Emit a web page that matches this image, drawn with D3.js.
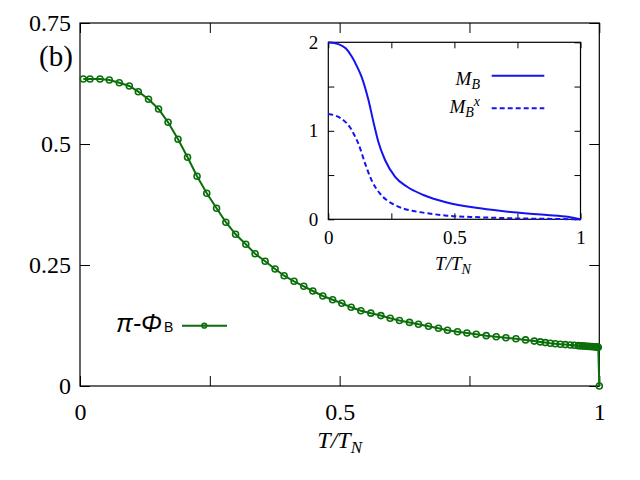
<!DOCTYPE html>
<html>
<head>
<meta charset="utf-8">
<script src="https://cdn.jsdelivr.net/npm/d3@7"></script>
<style>
  html, body { margin: 0; padding: 0; background: #fff; }
  svg { display: block; }
</style>
</head>
<body>
<svg id="chart" width="640" height="480"></svg>
<script>
// ---------- data ----------
const mainT = [0.0064, 0.0193, 0.0385, 0.0565, 0.0757, 0.0950, 0.1123, 0.1320, 0.1513, 0.1696,
  0.1888, 0.2071, 0.2254, 0.2441, 0.2630, 0.2809, 0.2996, 0.3193, 0.3372, 0.3565,
  0.3757, 0.3931, 0.4123, 0.4310, 0.4484, 0.4676, 0.4865, 0.5042, 0.5222, 0.5408,
  0.5601, 0.5794, 0.5973, 0.6152, 0.6345, 0.6518, 0.6711, 0.6904, 0.7077, 0.7270,
  0.7451, 0.7630, 0.7823, 0.8015, 0.8202, 0.8395, 0.8580, 0.8748, 0.8863, 0.8960,
  0.9056, 0.9152, 0.9249, 0.9345, 0.9441, 0.9518, 0.9595, 0.9634, 0.9672, 0.9711,
  0.9750, 0.9788, 0.9827, 0.9865, 0.9904, 0.9933, 0.9961, 0.9980, 1.0000];
const mainPhi = [0.6343, 0.6343, 0.6343, 0.6322, 0.6267, 0.6198, 0.6081, 0.5924, 0.5723, 0.5448,
  0.5097, 0.4727, 0.4335, 0.3981, 0.3671, 0.3384, 0.3134, 0.2928, 0.2733, 0.2576,
  0.2417, 0.2279, 0.2163, 0.2060, 0.1963, 0.1860, 0.1781, 0.1709, 0.1626, 0.1556,
  0.1505, 0.1455, 0.1399, 0.1352, 0.1314, 0.1275, 0.1233, 0.1192, 0.1151, 0.1122,
  0.1095, 0.1070, 0.1040, 0.1019, 0.0998, 0.0977, 0.0952, 0.0928, 0.0911, 0.0897,
  0.0884, 0.0874, 0.0864, 0.0855, 0.0847, 0.0841, 0.0834, 0.0831, 0.0828, 0.0825,
  0.0822, 0.0819, 0.0816, 0.0813, 0.0810, 0.0808, 0.0805, 0.0802, 0.0000];

const insetT_MB = [0, 0.04, 0.07, 0.093, 0.115, 0.132, 0.159, 0.179, 0.198, 0.225,
  0.265, 0.311, 0.377, 0.47, 0.602, 0.734, 0.867, 0.95, 1.0];
const insetMB = [2.0, 1.98, 1.93, 1.84, 1.72, 1.61, 1.35, 1.10, 0.88, 0.67,
  0.48, 0.37, 0.275, 0.19, 0.124, 0.079, 0.049, 0.028, 0.0];

const insetT_MBx = [0, 0.03, 0.06, 0.086, 0.10, 0.12, 0.146, 0.172, 0.205, 0.23,
  0.258, 0.30, 0.337, 0.40, 0.47, 0.6, 0.73, 0.87, 1.0];
const insetMBx = [1.19, 1.17, 1.12, 1.04, 0.97, 0.85, 0.63, 0.44, 0.29, 0.22,
  0.17, 0.12, 0.094, 0.065, 0.041, 0.023, 0.011, 0.005, 0.0];

const mainXTicks = [0, 0.25, 0.5, 0.75, 1];
const mainXLabels = ["0", "", "0.5", "", "1"];
const mainYTicks = [0, 0.25, 0.5, 0.75];
const mainYLabels = ["0", "0.25", "0.5", "0.75"];
const insetXTicks = [0, 0.25, 0.5, 0.75, 1];
const insetXLabels = ["0", "", "0.5", "", "1"];
const insetYTicks = [0, 0.5, 1, 1.5, 2];
const insetYLabels = ["0", "", "1", "", "2"];

// ---------- drawing ----------
const svg = d3.select("#chart");
svg.append("rect").attr("width", 640).attr("height", 480).attr("fill", "#fff");

const SERIF = '"Liberation Serif"';
const SANS = '"Liberation Sans"';
const GREEN = "#0b6e0b";
const BLUE = "#1414f0";

// main plot
const x = d3.scaleLinear().domain([0, 1]).range([80, 599.3]);
const y = d3.scaleLinear().domain([0, 0.75]).range([386, 23]);

function styleAxis(g, size) {
  g.attr("font-family", null).attr("font-size", null);
  g.select(".domain").remove();
  g.selectAll(".tick line").attr("stroke", "#000").attr("stroke-width", 1);
  g.selectAll(".tick text").style("font-family", SERIF).style("font-size", size + "px").attr("fill", "#000");
}

svg.append("g").attr("transform", `translate(0,${y(0)})`)
  .call(d3.axisBottom(x).tickValues(mainXTicks).tickSize(-10).tickPadding(17)
    .tickFormat((d, i) => mainXLabels[i]))
  .call(g => styleAxis(g, 24));
svg.append("g").attr("transform", `translate(0,${y(0.75)})`)
  .call(d3.axisTop(x).tickValues(mainXTicks).tickSize(-10).tickFormat(""))
  .call(g => styleAxis(g, 24));
svg.append("g").attr("transform", `translate(${x(0)},0)`)
  .call(d3.axisLeft(y).tickValues(mainYTicks).tickSize(-10).tickPadding(9)
    .tickFormat((d, i) => mainYLabels[i]))
  .call(g => styleAxis(g, 24));
svg.append("g").attr("transform", `translate(${x(1)},0)`)
  .call(d3.axisRight(y).tickValues(mainYTicks).tickSize(-10).tickFormat(""))
  .call(g => styleAxis(g, 24));

svg.append("rect")
  .attr("x", x(0)).attr("y", y(0.75))
  .attr("width", x(1) - x(0)).attr("height", y(0) - y(0.75))
  .attr("fill", "none").attr("stroke", "#000").attr("stroke-width", 1.2);

// main series
const mainData = mainT.map((t, i) => [t, mainPhi[i]]);
svg.append("path").datum(mainData)
  .attr("d", d3.line().x(d => x(d[0])).y(d => y(d[1])))
  .attr("fill", "none").attr("stroke", GREEN).attr("stroke-width", 2);
svg.append("g").selectAll("circle").data(mainData).join("circle")
  .attr("cx", d => x(d[0])).attr("cy", d => y(d[1])).attr("r", 3)
  .attr("fill", "none").attr("stroke", GREEN).attr("stroke-width", 1.6);

// main labels
const xt = svg.append("text").attr("x", x(0.5)).attr("y", 448)
  .attr("text-anchor", "middle").style("font-family", SERIF).style("font-size", "24px")
  .style("font-style", "italic").attr("fill", "#000");
xt.append("tspan").text("T/T");
xt.append("tspan").style("font-size", "17px").attr("dy", 5).text("N");

svg.append("text").attr("x", 39).attr("y", 66).style("font-family", SERIF)
  .style("font-size", "29px").attr("fill", "#000").text("(b)");

// main legend
const lg = svg.append("text").attr("x", 116).attr("y", 332).style("font-family", SANS)
  .style("font-size", "25px").attr("fill", "#000");
lg.append("tspan").style("font-style", "italic").text("π-Φ");
lg.append("tspan").style("font-size", "14px").attr("dx", 2).text("B");
svg.append("line").attr("x1", 182).attr("x2", 227).attr("y1", 325.7).attr("y2", 325.7)
  .attr("stroke", GREEN).attr("stroke-width", 2);
svg.append("circle").attr("cx", 204.3).attr("cy", 325.7).attr("r", 2.3)
  .attr("fill", "none").attr("stroke", GREEN).attr("stroke-width", 1.6);

// inset
const xi = d3.scaleLinear().domain([0, 1]).range([328.3, 580.5]);
const yi = d3.scaleLinear().domain([0, 2]).range([219.3, 42.3]);

svg.append("rect").attr("x", xi(0)).attr("y", yi(2))
  .attr("width", xi(1) - xi(0)).attr("height", yi(0) - yi(2)).attr("fill", "#fff");

svg.append("g").attr("transform", `translate(0,${yi(0)})`)
  .call(d3.axisBottom(xi).tickValues(insetXTicks).tickSize(-6).tickPadding(11)
    .tickFormat((d, i) => insetXLabels[i]))
  .call(g => styleAxis(g, 19));
svg.append("g").attr("transform", `translate(0,${yi(2)})`)
  .call(d3.axisTop(xi).tickValues(insetXTicks).tickSize(-6).tickFormat(""))
  .call(g => styleAxis(g, 19));
svg.append("g").attr("transform", `translate(${xi(0)},0)`)
  .call(d3.axisLeft(yi).tickValues(insetYTicks).tickSize(-6).tickPadding(10)
    .tickFormat((d, i) => insetYLabels[i]))
  .call(g => styleAxis(g, 19));
svg.append("g").attr("transform", `translate(${xi(1)},0)`)
  .call(d3.axisRight(yi).tickValues(insetYTicks).tickSize(-6).tickFormat(""))
  .call(g => styleAxis(g, 19));

svg.append("rect").attr("x", xi(0)).attr("y", yi(2))
  .attr("width", xi(1) - xi(0)).attr("height", yi(0) - yi(2))
  .attr("fill", "none").attr("stroke", "#000").attr("stroke-width", 1.2);

const lineI = d3.line().x(d => xi(d[0])).y(d => yi(d[1])).curve(d3.curveMonotoneX);
svg.append("path").datum(insetT_MB.map((t, i) => [t, insetMB[i]]))
  .attr("d", lineI).attr("fill", "none").attr("stroke", BLUE).attr("stroke-width", 2);
svg.append("path").datum(insetT_MBx.map((t, i) => [t, insetMBx[i]]))
  .attr("d", lineI).attr("fill", "none").attr("stroke", BLUE).attr("stroke-width", 2)
  .attr("stroke-dasharray", "5,3");

// inset axis title
const xti = svg.append("text").attr("x", 453).attr("y", 270)
  .attr("text-anchor", "middle").style("font-family", SERIF).style("font-size", "19px")
  .style("font-style", "italic").attr("fill", "#000");
xti.append("tspan").text("T/T");
xti.append("tspan").style("font-size", "14px").attr("dy", 4).text("N");

// inset legend
const l1 = svg.append("text").attr("x", 480).attr("y", 85)
  .attr("text-anchor", "end").style("font-family", SERIF).style("font-size", "19px")
  .style("font-style", "italic").attr("fill", "#000");
l1.append("tspan").text("M");
l1.append("tspan").style("font-size", "14px").attr("dy", 4).text("B");
svg.append("line").attr("x1", 491.7).attr("x2", 544.3).attr("y1", 75.7).attr("y2", 75.7)
  .attr("stroke", BLUE).attr("stroke-width", 2);

const l2 = svg.append("text").attr("x", 480).attr("y", 113.3)
  .attr("text-anchor", "end").style("font-family", SERIF).style("font-size", "19px")
  .style("font-style", "italic").attr("fill", "#000");
l2.append("tspan").text("M");
l2.append("tspan").style("font-size", "14px").attr("dy", 4).text("B");
l2.append("tspan").style("font-size", "14px").attr("dy", -11).text("x");
svg.append("line").attr("x1", 491.7).attr("x2", 544.3).attr("y1", 108.3).attr("y2", 108.3)
  .attr("stroke", BLUE).attr("stroke-width", 2).attr("stroke-dasharray", "5,3");
</script>
</body>
</html>
